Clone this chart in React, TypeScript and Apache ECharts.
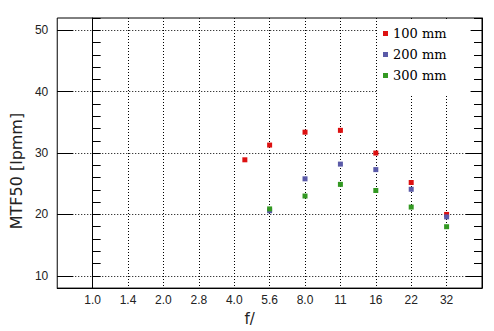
import React, { useEffect, useRef } from "react";
import * as echarts from "echarts";

// f-number tick labels, one per full stop (stop index 0..10)
const xTickLabels = ["1.0", "1.4", "2.0", "2.8", "4.0", "5.6", "8.0", "11", "16", "22", "32"];
const yMajorTicks = [10, 20, 30, 40, 50];

// aperture positions in stops (0 = f/1.0)
const stops100 = [4.3, 5, 6, 7, 8, 9, 10];
const stops200 = [5, 6, 7, 8, 9, 10];
const stops300 = [5, 6, 7, 8, 9, 10];

// MTF50 values [lpmm]
const mtf100 = [28.9, 31.3, 33.4, 33.7, 30.0, 25.2, 20.0];
const mtf200 = [20.6, 25.8, 28.2, 27.3, 24.1, 19.6];
const mtf300 = [20.9, 23.0, 24.9, 23.9, 21.2, 18.0];

const seriesNames = ["100 mm", "200 mm", "300 mm"];
const seriesColors = ["#dd1111", "#5a5aa8", "#339922"];

const pairs = (xs: number[], ys: number[]) => xs.map((x, i) => [x, ys[i]]);

const labelFont = "Liberation Sans";
const dotted = [1, 2];

export default function App() {
  const ref = useRef<HTMLDivElement>(null);
  useEffect(() => {
    if (!ref.current) return;
    const chart = echarts.init(ref.current, undefined, { renderer: "svg" });
    const minorAxis = (position: "left" | "right", withLabels: boolean) => ({
      type: "value",
      position,
      min: 8,
      max: 52,
      interval: 2,
      axisLine: { show: true, lineStyle: { color: "#000", width: 1 } },
      axisTick: { show: true, inside: true, length: 8, lineStyle: { color: "#000" } },
      axisLabel: withLabels
        ? {
            show: true,
            margin: 9,
            fontFamily: labelFont,
            fontSize: 12,
            color: "#222",
            formatter: (v: number) => (yMajorTicks.includes(v) ? String(v) : ""),
          }
        : { show: false },
      splitLine: withLabels
        ? {
            show: true,
            lineStyle: {
              color: ["rgba(0,0,0,0)", "#000", "rgba(0,0,0,0)", "rgba(0,0,0,0)", "rgba(0,0,0,0)"],
              type: dotted,
              width: 1,
            },
          }
        : { show: false },
      name: withLabels ? "MTF50 [lpmm]" : undefined,
      nameLocation: "middle",
      nameGap: 30,
      nameTextStyle: {
        fontFamily: "DejaVu Sans",
        fontSize: 16,
        color: "#222",
        padding: [0, 36, 0, 0],
      },
    });
    const majorAxis = (position: "left" | "right") => ({
      type: "value",
      position,
      min: 8,
      max: 52,
      axisLine: { show: false },
      axisTick: {
        show: true,
        inside: true,
        length: 16,
        customValues: yMajorTicks,
        lineStyle: { color: "#000" },
      },
      axisLabel: { show: false },
      splitLine: { show: false },
    });
    chart.setOption({
      animation: false,
      backgroundColor: "#fff",
      grid: {
        left: 55,
        top: 18,
        right: 12,
        bottom: 37,
        show: true,
        borderColor: "#000",
        borderWidth: 1,
        backgroundColor: "transparent",
      },
      legend: {
        data: seriesNames,
        orient: "vertical",
        left: 377,
        top: 19,
        backgroundColor: "#fff",
        padding: [8, 24, 12, 6],
        itemWidth: 5,
        itemHeight: 5,
        itemGap: 8,
        icon: "rect",
        textStyle: { fontFamily: "DejaVu Serif", fontSize: 13, color: "#000" },
      },
      xAxis: {
        type: "value",
        min: -1,
        max: 11,
        interval: 1,
        axisLine: { show: true, lineStyle: { color: "#000", width: 1 } },
        axisTick: { show: false },
        axisLabel: {
          margin: 6,
          fontFamily: labelFont,
          fontSize: 12,
          color: "#222",
          formatter: (v: number) => {
            const i = Math.round(v);
            return i >= 0 && i < xTickLabels.length ? xTickLabels[i] : "";
          },
        },
        splitLine: {
          show: true,
          showMinLine: false,
          showMaxLine: false,
          lineStyle: { color: "#000", type: dotted, width: 1 },
        },
        name: "f/",
        nameLocation: "middle",
        nameGap: 17,
        nameTextStyle: {
          fontFamily: "DejaVu Sans",
          fontSize: 15,
          color: "#222",
          padding: [0, 40, 0, 0],
        },
      },
      yAxis: [minorAxis("left", true), majorAxis("left"), minorAxis("right", false), majorAxis("right")],
      series: [
        { name: seriesNames[0], data: pairs(stops100, mtf100) },
        { name: seriesNames[1], data: pairs(stops200, mtf200) },
        { name: seriesNames[2], data: pairs(stops300, mtf300) },
      ].map((s, i) => ({
        ...s,
        type: "scatter",
        xAxisIndex: 0,
        yAxisIndex: 0,
        symbol: "rect",
        symbolSize: 5,
        itemStyle: { color: seriesColors[i], opacity: 1 },
        z: 2 + i,
      })),
    });
    return () => chart.dispose();
  }, []);
  return (
    <div
      ref={ref}
      style={{ position: "fixed", left: 0, top: 0, width: 494, height: 331 }}
    />
  );
}
